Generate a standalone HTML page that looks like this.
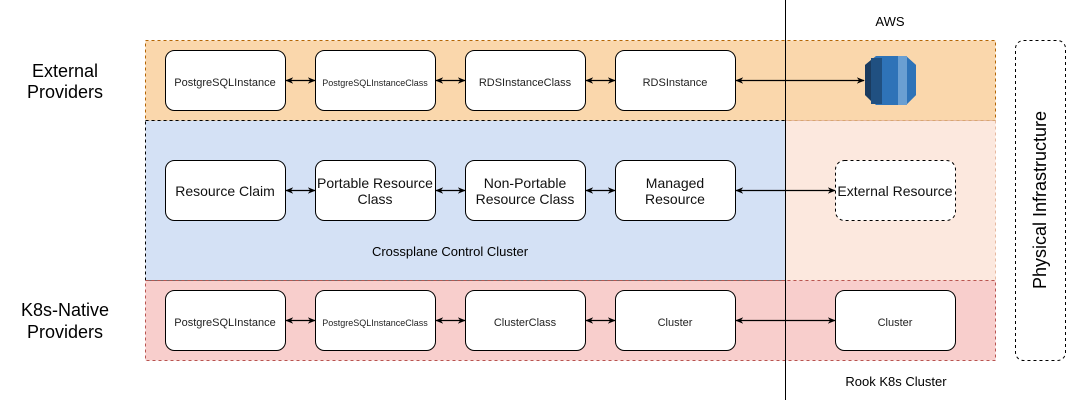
<!DOCTYPE html>
<html><head><meta charset="utf-8"><style>
html,body{margin:0;padding:0;background:#fff;}
svg{display:block;font-family:"Liberation Sans",Arial,sans-serif;}
</style></head><body>
<svg width="1066" height="402" viewBox="0 0 1066 402" xmlns="http://www.w3.org/2000/svg">
<defs>
<marker id="a" viewBox="0 0 10 10" refX="9" refY="5" markerWidth="8" markerHeight="8" orient="auto-start-reverse" markerUnits="userSpaceOnUse">
<path d="M0,1 L10,5 L0,9 L3,5 Z" fill="#000"/>
</marker>
</defs>
<rect width="1066" height="402" fill="#fff"/>
<rect x="145.5" y="40.5" width="850" height="80" fill="#fad7ac" stroke="#b46504" stroke-dasharray="3,3"/>
<rect x="785.5" y="120.5" width="210" height="160" fill="#fce8de" stroke="#e6b8a0" stroke-dasharray="3,3"/>
<rect x="145.5" y="120.5" width="640" height="160" fill="#d4e1f5" stroke="#000" stroke-dasharray="3,3"/>
<rect x="145.5" y="280.5" width="850" height="80" fill="#f8cecc" stroke="#b85450" stroke-dasharray="3,3"/>
<line x1="785.5" y1="0" x2="785.5" y2="400" stroke="#000"/>
<rect x="1015.5" y="40.5" width="50" height="320" rx="8" fill="#fff" stroke="#000" stroke-dasharray="3,3"/>
<text x="1047" y="200" font-size="18" text-anchor="middle" transform="rotate(-90 1047 200)" dy="-1">Physical Infrastructure</text>
<text x="890" y="26" font-size="13" text-anchor="middle">AWS</text>
<text x="896" y="386" font-size="13" text-anchor="middle">Rook K8s Cluster</text>
<text x="450" y="256" font-size="13" text-anchor="middle">Crossplane Control Cluster</text>
<text x="65" y="77" font-size="18" text-anchor="middle">External</text>
<text x="65" y="98" font-size="18" text-anchor="middle">Providers</text>
<text x="65" y="316" font-size="18" text-anchor="middle">K8s-Native</text>
<text x="65" y="338" font-size="18" text-anchor="middle">Providers</text>
<g fill="#fff" stroke="#000">
<rect x="165.5" y="50.5" width="120" height="60" rx="9"/>
<rect x="315.5" y="50.5" width="120" height="60" rx="9"/>
<rect x="465.5" y="50.5" width="120" height="60" rx="9"/>
<rect x="615.5" y="50.5" width="120" height="60" rx="9"/>
<rect x="165.5" y="160.5" width="120" height="60" rx="9"/>
<rect x="315.5" y="160.5" width="120" height="60" rx="9"/>
<rect x="465.5" y="160.5" width="120" height="60" rx="9"/>
<rect x="615.5" y="160.5" width="120" height="60" rx="9"/>
<rect x="835.5" y="160.5" width="120" height="60" rx="9" stroke-dasharray="3,3"/>
<rect x="165.5" y="290.5" width="120" height="60" rx="9"/>
<rect x="315.5" y="290.5" width="120" height="60" rx="9"/>
<rect x="465.5" y="290.5" width="120" height="60" rx="9"/>
<rect x="615.5" y="290.5" width="120" height="60" rx="9"/>
<rect x="835.5" y="290.5" width="120" height="60" rx="9"/>
</g>
<g font-size="11" text-anchor="middle" fill="#222">
<text x="225" y="86">PostgreSQLInstance</text>
<text x="375" y="86" font-size="9">PostgreSQLInstanceClass</text>
<text x="525" y="86">RDSInstanceClass</text>
<text x="675" y="86">RDSInstance</text>
<text x="225" y="326">PostgreSQLInstance</text>
<text x="375" y="326" font-size="9">PostgreSQLInstanceClass</text>
<text x="525" y="326">ClusterClass</text>
<text x="675" y="326">Cluster</text>
<text x="895" y="326">Cluster</text>
</g>
<g font-size="14" text-anchor="middle" fill="#111">
<text x="225" y="196">Resource Claim</text>
<text x="375" y="188">Portable Resource</text>
<text x="375" y="204">Class</text>
<text x="525" y="188">Non-Portable</text>
<text x="525" y="204">Resource Class</text>
<text x="675" y="188">Managed</text>
<text x="675" y="204">Resource</text>
<text x="895" y="196">External Resource</text>
</g>
<g stroke="#000" stroke-width="1.2" marker-start="url(#a)" marker-end="url(#a)">
<line x1="286" y1="80.5" x2="315" y2="80.5"/>
<line x1="436" y1="80.5" x2="465" y2="80.5"/>
<line x1="586" y1="80.5" x2="615" y2="80.5"/>
<line x1="736" y1="80.5" x2="864" y2="80.5"/>
<line x1="286" y1="190.5" x2="315" y2="190.5"/>
<line x1="436" y1="190.5" x2="465" y2="190.5"/>
<line x1="586" y1="190.5" x2="615" y2="190.5"/>
<line x1="736" y1="190.5" x2="835" y2="190.5"/>
<line x1="286" y1="320.5" x2="315" y2="320.5"/>
<line x1="436" y1="320.5" x2="465" y2="320.5"/>
<line x1="586" y1="320.5" x2="615" y2="320.5"/>
<line x1="736" y1="320.5" x2="835" y2="320.5"/>
</g>
<polygon points="865,65 876,56 906,56 916,65 916,95 906,105 876,105 865,95" fill="#2e73b8"/>
<polygon points="865,65 871,60 871,101 865,95" fill="#1a3b5f"/>
<rect x="871" y="58" width="11" height="46" fill="#205081"/>
<rect x="898" y="56" width="9" height="49" fill="#6a9fd2"/>
<polygon points="907,57 916,65 916,95 907,104" fill="#2e73b8"/>
</svg>
</body></html>
